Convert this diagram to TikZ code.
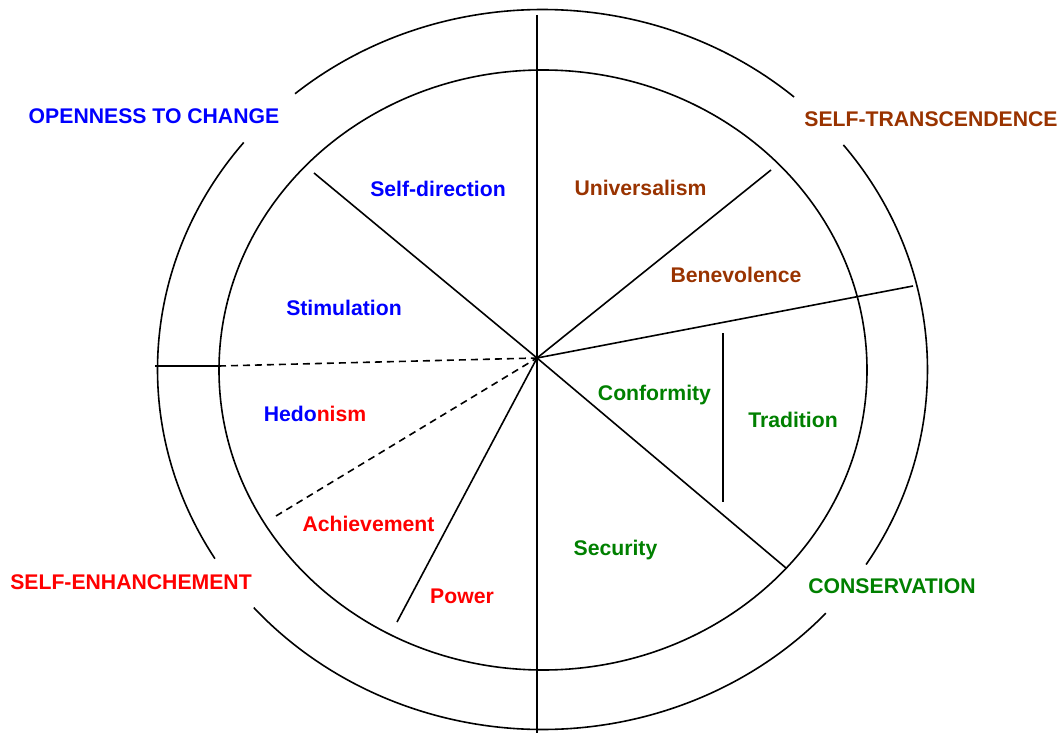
\documentclass[tikz,border=0pt]{standalone}
\usepackage{fontspec}
\setmainfont{Liberation Sans}
\definecolor{cblue}{RGB}{0,0,255}
\definecolor{cred}{RGB}{255,0,0}
\definecolor{cgreen}{RGB}{0,128,0}
\definecolor{cbrown}{RGB}{153,51,0}
\begin{document}
\begin{tikzpicture}[x=1bp,y=-1bp,
  lbl/.style={font=\bfseries\fontsize{21.2bp}{25bp}\selectfont, anchor=base, inner sep=0pt},
  ln/.style={line width=1.6bp, black},
  dsh/.style={ln, dash pattern=on 7bp off 5bp}]
\useasboundingbox (0,0) rectangle (1060,733);
\coordinate (H) at (537,358);
\coordinate (C) at (543,370);
\coordinate (O) at (542.5,369.5);
% inner ellipse
\draw[ln] (C) ellipse [x radius=324bp, y radius=300bp];
% outer ellipse with gaps
\draw[ln] (O) ++(130:385bp and 360bp) arc[start angle=130, end angle=49.2, x radius=385bp, y radius=360bp];
\draw[ln] (O) ++(38.6:385bp and 360bp) arc[start angle=38.6, end angle=-32.8, x radius=385bp, y radius=360bp];
\draw[ln] (O) ++(-42.6:385bp and 360bp) arc[start angle=-42.6, end angle=-138.6, x radius=385bp, y radius=360bp];
\draw[ln] (O) ++(-148.3:385bp and 360bp) arc[start angle=-148.3, end angle=-219.1, x radius=385bp, y radius=360bp];
% spokes
\coordinate (vt) at (537,15);
\coordinate (vb) at (537,733);
\coordinate (sd) at (314,173);
\coordinate (un) at (771,170);
\coordinate (bc) at (913,286);
\coordinate (cs) at (786,568);
\coordinate (ha) at (276,516);
\coordinate (pw) at (397,622);
\coordinate (lo) at (155,366);
\coordinate (li) at (219,366);
\coordinate (tt) at (723,333);
\coordinate (tb) at (723,502);
\draw[ln] (vt) -- (vb);
\draw[ln] (sd) -- (H);
\draw[ln] (un) -- (H);
\draw[ln] (bc) -- (H);
\draw[ln] (cs) -- (H);
\draw[ln] (pw) -- (H);
\draw[dsh] (ha) -- (H);
\draw[ln] (lo) -- (li);
\draw[dsh] (li) -- (H);
\draw[ln] (tt) -- (tb);
% outer labels
\node[lbl, text=cblue] (open) at (154,124) {OPENNESS TO CHANGE};
\node[lbl, text=cbrown] (trans) at (931,127) {SELF-TRANSCENDENCE};
\node[lbl, text=cred] (enh) at (131,589) {SELF-ENHANCHEMENT};
\node[lbl, text=cgreen] (cons) at (892,593) {CONSERVATION};
% inner labels
\node[lbl, text=cblue] (sdir) at (438,196.5) {Self-direction};
\node[lbl, text=cblue] (stim) at (344,315.5) {Stimulation};
\node[lbl, text=cbrown] (univ) at (640.5,196) {Universalism};
\node[lbl, text=cbrown] (bene) at (736,282) {Benevolence};
\node[lbl] (hedo) at (315,421.5) {\textcolor{cblue}{Hedo}\textcolor{cred}{nism}};
\node[lbl, text=cred] (achi) at (368.5,531.5) {Achievement};
\node[lbl, text=cred] (powr) at (462,603) {Power};
\node[lbl, text=cgreen] (conf) at (654.5,400) {Conformity};
\node[lbl, text=cgreen] (trad) at (793,427.5) {Tradition};
\node[lbl, text=cgreen] (secu) at (615.5,555) {Security};
\end{tikzpicture}
\end{document}
